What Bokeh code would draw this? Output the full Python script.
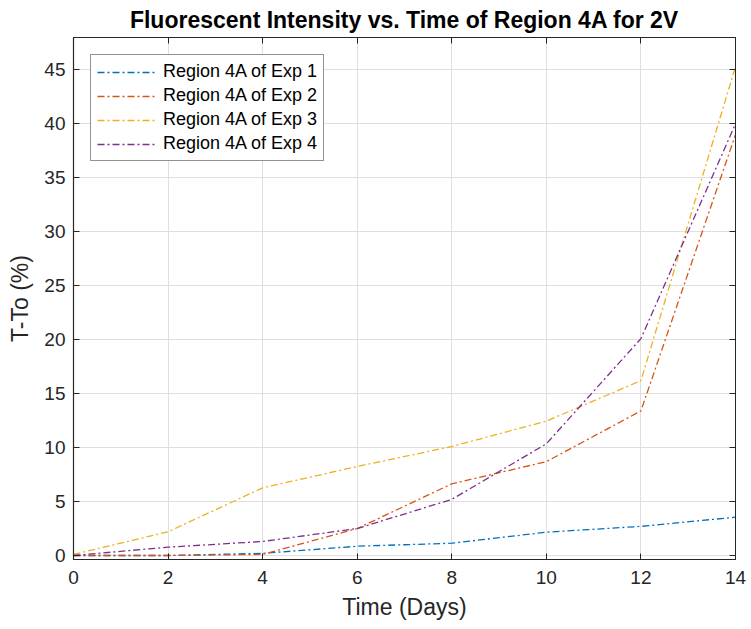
from bokeh.plotting import figure
from bokeh.models import LinearAxis, FixedTicker, Range1d, Legend, LegendItem
from bokeh.embed import file_html
from bokeh.resources import INLINE

days = [0, 2, 4, 6, 8, 10, 12, 14]
exp1 = [0.0, 0.0, 0.2, 0.86, 1.14, 2.16, 2.7, 3.55]
exp2 = [0.0, 0.0, 0.1, 2.5, 6.64, 8.7, 13.4, 39.0]
exp3 = [0.1, 2.2, 6.27, 8.25, 10.1, 12.45, 16.2, 45.3]
exp4 = [0.0, 0.77, 1.3, 2.5, 5.2, 10.35, 20.1, 40.0]
series = [exp1, exp2, exp3, exp4]
names = ["Region 4A of Exp 1", "Region 4A of Exp 2", "Region 4A of Exp 3", "Region 4A of Exp 4"]
colors = ["#0072BD", "#D95319", "#EDB120", "#7E2F8E"]
x_ticks = [0, 2, 4, 6, 8, 10, 12, 14]
y_ticks = [0, 5, 10, 15, 20, 25, 30, 35, 40, 45]

FONT = "Liberation Sans"
AX = "#262626"

p = figure(width=751, height=629, output_backend="svg", toolbar_location=None,
           x_range=Range1d(0, 14), y_range=Range1d(-0.37, 48),
           title="Fluorescent Intensity vs. Time of Region 4A for 2V",
           min_border_left=73, min_border_right=16, min_border_top=37, min_border_bottom=70)
p.title.text_font = FONT
p.title.text_font_size = "23px"
p.title.text_font_style = "bold"
p.title.text_color = "#000000"
p.title.align = "center"
p.title.standoff = 9
p.outline_line_color = AX
p.outline_line_width = 1

items = []
for ys, nm, c in zip(series, names, colors):
    r = p.line(days, ys, line_color=c, line_width=1.3, line_dash="7 3 2 3")
    items.append(LegendItem(label=nm, renderers=[r]))

for ax in [p.xaxis[0], p.yaxis[0]]:
    ax.major_tick_in = 6
    ax.major_tick_out = 0
    ax.minor_tick_in = 0
    ax.minor_tick_out = 0
    ax.axis_line_color = AX
    ax.axis_line_width = 1.2
    ax.major_tick_line_color = AX
    ax.major_label_text_font = FONT
    ax.major_label_text_font_size = "19px"
    ax.major_label_text_color = AX
    ax.axis_label_text_font = FONT
    ax.axis_label_text_font_size = "23px"
    ax.axis_label_text_font_style = "normal"
    ax.axis_label_text_color = AX

p.xaxis[0].ticker = FixedTicker(ticks=x_ticks)
p.yaxis[0].ticker = FixedTicker(ticks=y_ticks)
p.xaxis[0].axis_label = "Time (Days)"
p.yaxis[0].axis_label = "T-To (%)"
p.xaxis[0].major_label_standoff = 11
p.yaxis[0].major_label_standoff = 8
p.xaxis[0].axis_label_standoff = 7
p.yaxis[0].axis_label_standoff = 8

top = LinearAxis(ticker=FixedTicker(ticks=x_ticks), major_label_text_font_size="0px",
                 major_label_standoff=0,
                 major_tick_in=6, major_tick_out=0, minor_tick_in=0, minor_tick_out=0,
                 axis_line_color=AX, major_tick_line_color=AX)
right = LinearAxis(ticker=FixedTicker(ticks=y_ticks), major_label_text_font_size="0px",
                   major_label_standoff=0,
                   major_tick_in=6, major_tick_out=0, minor_tick_in=0, minor_tick_out=0,
                   axis_line_color=AX, major_tick_line_color=AX)
p.add_layout(top, "above")
p.add_layout(right, "right")

p.xgrid.ticker = FixedTicker(ticks=x_ticks)
p.ygrid.ticker = FixedTicker(ticks=y_ticks)
p.grid.grid_line_color = "#dfdfdf"
p.grid.grid_line_width = 1

legend = Legend(items=items, location="top_left", margin=17)
legend.label_text_font = FONT
legend.label_text_font_size = "18px"
legend.label_text_color = "#000000"
legend.glyph_width = 60
legend.glyph_height = 20
legend.spacing = 3
legend.label_height = 20
legend.padding = 6
legend.label_standoff = 6
legend.border_line_color = "#262626"
legend.border_line_width = 1
legend.background_fill_alpha = 1
p.add_layout(legend)

open("out.html", "w").write(file_html(p, INLINE))
